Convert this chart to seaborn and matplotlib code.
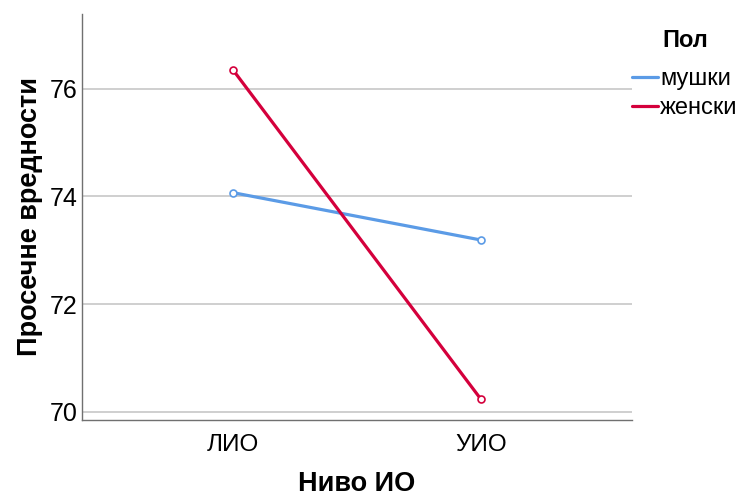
import pandas as pd
import matplotlib.pyplot as plt
import seaborn as sns

# data
nivo = ["ЛИО", "УИО"]
muski = [74.07, 73.19]
zenski = [76.35, 70.23]
pol_labels = ["мушки", "женски"]

df = pd.DataFrame({
    "Ниво ИО": nivo * 2,
    "Просечне вредности": muski + zenski,
    "Пол": [pol_labels[0]] * 2 + [pol_labels[1]] * 2,
})

sns.set_style("white")
plt.rcParams["font.family"] = ["Liberation Sans", "DejaVu Sans"]
plt.rcParams["text.color"] = "black"
plt.rcParams["axes.labelcolor"] = "black"
plt.rcParams["xtick.color"] = "black"
plt.rcParams["ytick.color"] = "black"

colors = {"мушки": "#5b9be6", "женски": "#d4003c"}

fig = plt.figure(figsize=(7.43, 4.98), dpi=100)
ax = fig.add_axes([0.110, 0.157, 0.741, 0.815])

# gridlines
for y in [70, 72, 74, 76]:
    ax.axhline(y, color="#cccccc", lw=1.3, zorder=0)

sns.lineplot(
    data=df,
    x="Ниво ИО",
    y="Просечне вредности",
    hue="Пол",
    palette=colors,
    marker="o",
    markersize=5,
    linewidth=2.3,
    ax=ax,
)
for line in ax.lines[4:]:
    c = line.get_color()
    line.set_markerfacecolor("white")
    line.set_markeredgecolor(c)
    line.set_markeredgewidth(1.2)
    line.set_alpha(1)

ax.set_xlim(-0.61, 1.61)
ax.set_ylim(69.85, 77.39)
ax.set_yticks([70, 72, 74, 76])
ax.tick_params(axis="y", labelsize=18, length=0, pad=3)
ax.tick_params(axis="x", labelsize=17.5, length=0, pad=10)

ax.set_xlabel("Ниво ИО", fontsize=19.5, fontweight="bold", labelpad=11)
ax.set_ylabel("Просечне вредности", fontsize=19.5, fontweight="bold", labelpad=5)

sns.despine(ax=ax)
for side in ["left", "bottom"]:
    ax.spines[side].set_color("#707070")
    ax.spines[side].set_linewidth(1.0)

ax.get_legend().remove()
handles, labels = ax.get_legend_handles_labels()
for h in handles:
    h.set_marker("")
    h.set_linewidth(2.3)
fig.legend(
    handles, labels,
    loc="upper left",
    bbox_to_anchor=(0.850, 0.863),
    frameon=False,
    fontsize=17,
    handlelength=1.1,
    handletextpad=0.1,
    labelspacing=0.3,
    borderaxespad=0,
    borderpad=0,
)
fig.text(662 / 743, 1 - 47 / 498, "Пол", fontsize=17, fontweight="bold",
         ha="left", va="baseline")

plt.savefig("out.png", dpi=100)
